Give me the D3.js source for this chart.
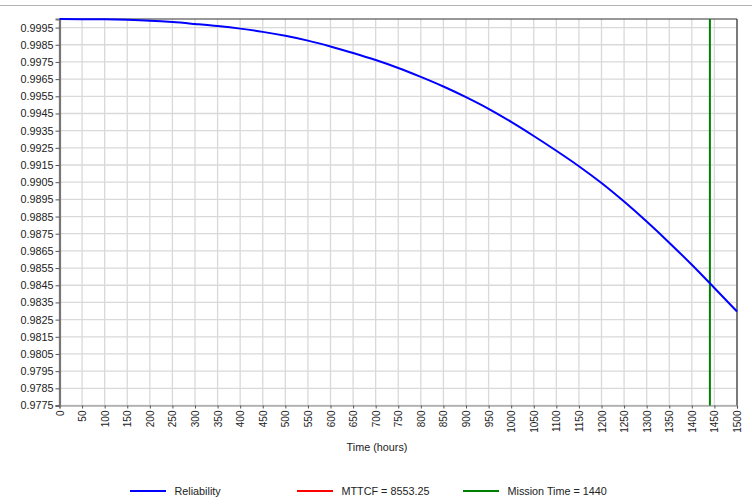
<!DOCTYPE html>
<html><head><meta charset="utf-8">
<script src="https://cdn.jsdelivr.net/npm/d3@7"></script>
<style>
html,body{margin:0;padding:0;background:#fff;}
svg{display:block;font-family:"Liberation Sans",Arial,sans-serif;}
</style></head>
<body><svg id="c" width="752" height="498"></svg>
<script>
const hours = [0,50,100,150,200,250,300,350,400,450,500,550,600,650,700,750,800,850,900,950,1000,1050,1100,1150,1200,1250,1300,1350,1400,1450,1500];
const reliability = [1.00000,0.99999,0.99998,0.99995,0.99990,0.99982,0.99971,0.99959,0.99944,0.99925,0.99902,0.99874,0.99840,0.99802,0.99761,0.99715,0.99663,0.99607,0.99545,0.99477,0.99401,0.99319,0.99233,0.99143,0.99045,0.98937,0.98821,0.98698,0.98569,0.98434,0.98297];
const missionTime = 1440;
const mttcf = 8553.25;
const xTicks = d3.range(0,1501,50);
const yTicks = d3.range(0,23).map(i => +(0.9775 + i*0.001).toFixed(4));
const legendLabels = ["Reliability","MTTCF = 8553.25","Mission Time = 1440"];
const legendColors = ["#0000ff","#ff0000","#008000"];

const svg = d3.select("#c");
const L = 59.5, R = 737, T = 19, B = 405.5;
const x = d3.scaleLinear().domain([0,1500]).range([L,R]);
const y = d3.scaleLinear().domain([0.9775,1.0]).range([B,T]);
const FONT = "'Liberation Sans',Arial,sans-serif";

// top window separator
svg.append("line").attr("x1",0).attr("x2",752).attr("y1",5.5).attr("y2",5.5).attr("stroke","#b4b4b4").attr("stroke-width",1);

// grid
const g = svg.append("g");
g.selectAll(".vg").data(xTicks).join("line")
  .attr("x1",d=>x(d)).attr("x2",d=>x(d)).attr("y1",T).attr("y2",B)
  .attr("stroke","#d9d9d9").attr("stroke-width",1.3);
g.selectAll(".hg").data(yTicks).join("line")
  .attr("x1",L).attr("x2",R).attr("y1",d=>y(d)).attr("y2",d=>y(d))
  .attr("stroke","#d9d9d9").attr("stroke-width",1.3);

// top & right frame
svg.append("line").attr("x1",L).attr("x2",R).attr("y1",T).attr("y2",T).attr("stroke","#333").attr("stroke-width",1.2);
svg.append("line").attr("x1",R).attr("x2",R).attr("y1",T).attr("y2",B).attr("stroke","#333").attr("stroke-width",1.2);

// axes
const yAxis = d3.axisLeft(y).tickValues(yTicks).tickFormat(d3.format(".4f")).tickSize(4).tickPadding(2);
const ya = svg.append("g").attr("transform",`translate(${L},0)`).call(yAxis);
ya.select(".domain").attr("stroke","#777").attr("stroke-width",2.2);
ya.selectAll(".tick line").attr("stroke","#555");
ya.selectAll("text").attr("font-size","10.8px").attr("fill","#222").attr("font-family",FONT);

const xAxis = d3.axisBottom(x).tickValues(xTicks).tickFormat(d3.format("d")).tickSize(3).tickPadding(2);
const xa = svg.append("g").attr("transform",`translate(0,${B})`).call(xAxis);
xa.select(".domain").attr("stroke","#888").attr("stroke-width",1.2);
xa.selectAll(".tick line").attr("stroke","#555");
xa.selectAll("text").attr("font-size","10px").attr("fill","#222").attr("font-family",FONT)
  .attr("transform","rotate(-90)").attr("text-anchor","end").attr("dy","0.35em").attr("x",-5).attr("y",0);

// mission time line
svg.append("line").attr("x1",x(missionTime)).attr("x2",x(missionTime)).attr("y1",T).attr("y2",B)
  .attr("stroke","#008000").attr("stroke-width",2);

// reliability curve
const line = d3.line().x((d,i)=>x(hours[i])).y(d=>y(d)).curve(d3.curveMonotoneX);
svg.append("path").datum(reliability).attr("d",line).attr("fill","none").attr("stroke","#0000ff").attr("stroke-width",2);

// x label
svg.append("text").attr("x",377).attr("y",450.5).attr("text-anchor","middle").attr("font-size","10.8px").attr("fill","#222").attr("font-family",FONT).text("Time (hours)");

// legend
const lx = [130,297,463];
const lg = svg.append("g");
legendLabels.forEach((t,i)=>{
  lg.append("line").attr("x1",lx[i]).attr("x2",lx[i]+36).attr("y1",491).attr("y2",491).attr("stroke",legendColors[i]).attr("stroke-width",2);
  lg.append("text").attr("x",lx[i]+44.5).attr("y",495).attr("font-size","10.8px").attr("fill","#222").attr("font-family",FONT).text(t);
});
</script></body></html>
